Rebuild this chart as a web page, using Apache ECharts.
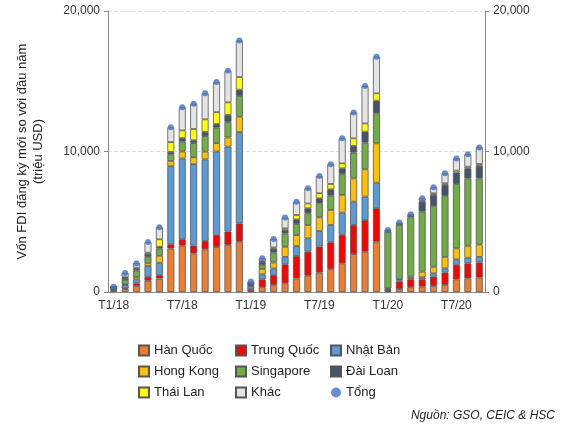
<!DOCTYPE html>
<html><head><meta charset="utf-8">
<script src="https://cdn.jsdelivr.net/npm/echarts@6/dist/echarts.min.js"></script>
<style>body{margin:0}#c{width:573px;height:443px}</style></head>
<body><div id="c"></div>
<script>
const categories = [];
['18','19','20'].forEach((y,i)=>{const n=i==2?9:12;for(let m=1;m<=n;m++)categories.push('T'+m+'/'+y);});
const hanQuoc = [0.1,0.2,0.43,0.8,0.96,3.1,3.3,2.75,3.04,3.2,3.35,3.58, 0.05,0.34,0.5,0.62,0.97,1.16,1.38,1.62,2.04,2.7,2.87,3.58, 0.05,0.2,0.34,0.38,0.43,0.5,0.9,0.97,1.02];
const trungQuoc = [0.05,0.05,0.19,0.28,0.24,0.3,0.45,0.55,0.6,0.85,0.95,1.3, 0.15,0.56,0.7,1.35,1.59,1.71,1.85,1.92,2.02,2.07,2.25,2.38, 0.1,0.54,0.56,0.52,0.66,0.88,1.02,1.07,1.09];
const nhatBan = [0.05,0.25,0.28,0.77,0.88,5.55,5.75,5.8,5.8,5.95,6.05,6.5, 0.2,0.36,0.48,0.53,0.71,0.95,1.11,1.23,1.59,1.66,1.67,1.82, 0.05,0.08,0.07,0.15,0.24,0.3,0.4,0.4,0.39];
const hongKong = [0.02,0.05,0.15,0.2,0.5,0.38,0.5,0.5,0.55,0.6,0.65,1.1, 0.05,0.38,0.42,0.72,0.78,0.95,0.98,1.07,1.26,1.66,1.94,2.8, 0.05,0.1,0.12,0.4,0.47,0.82,0.78,0.85,0.88];
const singapore = [0.1,0.3,0.47,0.45,0.52,0.47,0.7,1.0,1.1,1.1,1.1,1.47, 0.05,0.28,0.7,0.95,0.79,0.83,0.99,1.02,1.49,1.83,1.9,2.14, 4.05,3.85,4.22,4.27,4.32,4.34,4.59,4.8,4.71];
const daiLoan = [0.03,0.15,0.12,0.2,0.12,0.17,0.25,0.2,0.3,0.25,0.5,0.45, 0.1,0.21,0.28,0.23,0.33,0.36,0.36,0.45,0.4,0.48,0.78,0.9, 0.05,0.05,0.1,0.71,0.79,0.78,0.81,0.71,0.88];
const thaiLan = [0.01,0.05,0.09,0.1,0.53,0.7,0.55,0.8,0.9,0.85,0.9,0.9, 0.02,0.05,0.09,0.13,0.31,0.34,0.36,0.38,0.36,0.54,0.59,0.52, 0.02,0.02,0.03,0.07,0.12,0.12,0.14,0.12,0.14];
const khac = [0.02,0.3,0.32,0.75,0.85,1.05,1.65,1.8,1.85,2.15,2.25,2.6, 0.12,0.22,0.6,0.77,0.95,1.08,1.23,1.4,1.78,1.84,2.66,2.61, 0.05,0.1,0.1,0.17,0.42,0.71,0.87,0.88,1.18];
const yTicks = [0,10000,20000];
const groups = [['Hàn Quốc',hanQuoc,'#ED7D31'],['Trung Quốc',trungQuoc,'#FF0000'],['Nhật Bản',nhatBan,'#5B9BD5'],['Hong Kong',hongKong,'#FFC000'],['Singapore',singapore,'#70AD47'],['Đài Loan',daiLoan,'#44546A'],['Thái Lan',thaiLan,'#FFFF00'],['Khác',khac,'#E4E4E4']];
const tong = categories.map((_,i)=>Math.round(groups.reduce((s,g)=>s+g[1][i],0)*1000));
const series = groups.map(g=>({name:g[0],type:'bar',stack:'a',barWidth:7,data:g[1].map(v=>Math.round(v*1000)),
  itemStyle:{color:g[2],borderColor:'#555',borderWidth:0.8}}));
series.push({name:'Tổng',type:'scatter',data:tong,symbolSize:6,itemStyle:{color:'#4472C4'},z:10});
const font='Arial, Liberation Sans, sans-serif';
const leg = (names,left)=>({orient:'vertical',left,top:339,itemGap:8,itemWidth:10,itemHeight:10,data:names.map(n=>({name:n,icon:n==='Tổng'?'circle':'rect'})),textStyle:{fontSize:13,color:'#222',fontFamily:font}});
const axisCommon={type:'value',min:0,max:20000,interval:10000,axisLine:{show:true,lineStyle:{color:'#888'}},axisTick:{show:true,length:4,lineStyle:{color:'#888'}},axisLabel:{color:'#333',fontSize:12,fontFamily:font,formatter:v=>v.toLocaleString('en-US')}};
const chart=echarts.init(document.getElementById('c'));
chart.setOption({
  animation:false,
  grid:{left:108,right:88,top:11,bottom:151},
  legend:[leg(['Hàn Quốc','Hong Kong','Thái Lan'],133),leg(['Trung Quốc','Singapore','Khác'],230),leg(['Nhật Bản','Đài Loan','Tổng'],325)],
  xAxis:{type:'category',data:categories,axisLine:{lineStyle:{color:'#888'}},axisTick:{interval:2,length:4,lineStyle:{color:'#888'}},
    axisLabel:{interval:5,color:'#333',fontSize:12,fontFamily:font}},
  yAxis:[Object.assign({},axisCommon,{splitLine:{show:true,lineStyle:{type:'dashed',color:'#ddd'}},name:'Vốn FDI đăng ký mới so với đầu năm\n(triệu USD)',nameLocation:'middle',nameGap:62,nameRotate:90,nameTextStyle:{fontSize:13,color:'#222',fontFamily:font,lineHeight:16}}),
    Object.assign({},axisCommon,{position:'right',splitLine:{show:false}})],
  graphic:[{type:'text',right:18,top:410,style:{text:'Nguồn: GSO, CEIC & HSC',font:'italic 12px Arial, Liberation Sans, sans-serif',fill:'#222'}}],
  series
});
</script></body></html>
